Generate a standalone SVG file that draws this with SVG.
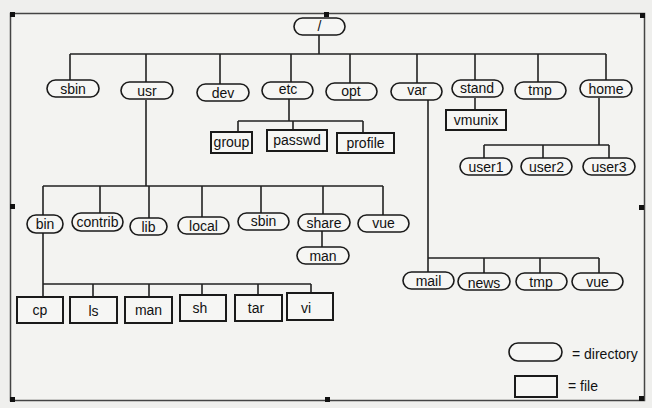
<svg xmlns="http://www.w3.org/2000/svg" width="652" height="408" viewBox="0 0 652 408">
<style>
.bg{fill:#efefed}
.frame{fill:#f3f3f1;stroke:#444;stroke-width:1.5}
.h{fill:#111}
.dir{fill:#f6f6f4;stroke:#1a1a1a;stroke-width:1.6}
.file{fill:#f6f6f4;stroke:#1a1a1a;stroke-width:2}
text{font-family:"Liberation Sans",Arial,sans-serif;font-size:14px;fill:#111;text-anchor:middle}
.leg{text-anchor:start}
.c{fill:none;stroke:#222;stroke-width:1.6}
</style>
<rect class="bg" x="0" y="0" width="652" height="408"/>
<rect class="frame" x="10.5" y="13.5" width="634" height="387"/>
<g id="handles">
<rect class="h" x="10" y="12" width="5" height="5"/>
<rect class="h" x="324" y="12" width="5" height="5"/>
<rect class="h" x="640" y="13" width="5" height="5"/>
<rect class="h" x="10" y="204" width="5" height="5"/>
<rect class="h" x="639" y="205" width="5" height="5"/>
<rect class="h" x="10" y="397" width="5" height="5"/>
<rect class="h" x="325" y="397" width="5" height="5"/>
<rect class="h" x="639" y="396" width="5" height="5"/>
</g>
<g id="connectors">
<path class="c" d="M319,35V54M70,54H606M70,54V80M146,54V82M220,54V84M291,54V82M350,54V83M417,54V83M475,54V80M538,54V82M606,54V80"/>
<path class="c" d="M289,99V121M238,121H363M238,121V132M293,121V130M363,121V133"/>
<path class="c" d="M475,98V110"/>
<path class="c" d="M599,98V145M484,145H609M484,145V158M543,145V158M609,145V158"/>
<path class="c" d="M146,100V186M43,186H383M43,186V215M100,186V213M149,186V218M202,186V217M261,186V213M323,186V214M383,186V215"/>
<path class="c" d="M322,231V247"/>
<path class="c" d="M43,233V284M43,284H311M43,284V297M93,284V297M149,284V297M202,284V295M258,284V295M311,284V293"/>
<path class="c" d="M428,99V258M428,258H599M428,258V272M484,258V273M540,258V273M599,258V273"/>
</g>
<g id="n-root"><rect class="dir" x="294" y="18" width="51" height="17" rx="8.5"/><text x="319.5" y="31">/</text></g>
<g id="n-sbin"><rect class="dir" x="47" y="80" width="52" height="17" rx="8.5"/><text x="73" y="94">sbin</text></g>
<g id="n-usr"><rect class="dir" x="121" y="82" width="52" height="17" rx="8.5"/><text x="147" y="96">usr</text></g>
<g id="n-dev"><rect class="dir" x="197" y="84" width="52" height="17" rx="8.5"/><text x="223" y="98">dev</text></g>
<g id="n-etc"><rect class="dir" x="262" y="82" width="51" height="17" rx="8.5"/><text x="288" y="94">etc</text></g>
<g id="n-opt"><rect class="dir" x="326" y="83" width="51" height="17" rx="8.5"/><text x="351" y="96">opt</text></g>
<g id="n-var"><rect class="dir" x="391" y="83" width="51" height="17" rx="8.5"/><text x="417" y="95">var</text></g>
<g id="n-stand"><rect class="dir" x="452" y="80" width="51" height="17" rx="8.5"/><text x="477" y="93">stand</text></g>
<g id="n-tmp"><rect class="dir" x="515" y="82" width="51" height="17" rx="8.5"/><text x="540" y="95">tmp</text></g>
<g id="n-home"><rect class="dir" x="580" y="80" width="52" height="17" rx="8.5"/><text x="606" y="94">home</text></g>
<g id="n-group"><rect class="file" x="211" y="132" width="41" height="21"/><text x="231.5" y="147">group</text></g>
<g id="n-passwd"><rect class="file" x="267" y="130" width="60" height="21"/><text x="297" y="145">passwd</text></g>
<g id="n-profile"><rect class="file" x="337" y="133" width="57" height="20"/><text x="365.5" y="148">profile</text></g>
<g id="n-vmunix"><rect class="file" x="446" y="110" width="60" height="20"/><text x="476" y="125">vmunix</text></g>
<g id="n-user1"><rect class="dir" x="460" y="158" width="52" height="17" rx="8.5"/><text x="486" y="172">user1</text></g>
<g id="n-user2"><rect class="dir" x="521" y="158" width="51" height="17" rx="8.5"/><text x="546.5" y="172">user2</text></g>
<g id="n-user3"><rect class="dir" x="583" y="158" width="52" height="17" rx="8.5"/><text x="609" y="172">user3</text></g>
<g id="n-bin"><rect class="dir" x="27" y="215" width="36" height="18" rx="9"/><text x="45" y="229">bin</text></g>
<g id="n-contrib"><rect class="dir" x="72" y="213" width="51" height="18" rx="9"/><text x="97.5" y="227">contrib</text></g>
<g id="n-lib"><rect class="dir" x="130" y="218" width="37" height="17" rx="8.5"/><text x="148.5" y="232">lib</text></g>
<g id="n-local"><rect class="dir" x="178" y="217" width="51" height="17" rx="8.5"/><text x="203.5" y="231">local</text></g>
<g id="n-sbin2"><rect class="dir" x="238" y="213" width="51" height="17" rx="8.5"/><text x="263.5" y="226">sbin</text></g>
<g id="n-share"><rect class="dir" x="298" y="214" width="52" height="17" rx="8.5"/><text x="324" y="228">share</text></g>
<g id="n-vue"><rect class="dir" x="358" y="215" width="51" height="17" rx="8.5"/><text x="383.5" y="228">vue</text></g>
<g id="n-man"><rect class="dir" x="297" y="247" width="52" height="17" rx="8.5"/><text x="323" y="261">man</text></g>
<g id="n-cp"><rect class="file" x="17" y="297" width="46" height="26"/><text x="40" y="315">cp</text></g>
<g id="n-ls"><rect class="file" x="70" y="297" width="47" height="26"/><text x="93.5" y="316">ls</text></g>
<g id="n-man2"><rect class="file" x="125" y="297" width="47" height="26"/><text x="148.5" y="315">man</text></g>
<g id="n-sh"><rect class="file" x="180" y="295" width="46" height="26"/><text x="200" y="313">sh</text></g>
<g id="n-tar"><rect class="file" x="235" y="295" width="47" height="26"/><text x="256" y="313">tar</text></g>
<g id="n-vi"><rect class="file" x="287" y="293" width="46" height="27"/><text x="306" y="313">vi</text></g>
<g id="n-mail"><rect class="dir" x="403" y="272" width="51" height="17" rx="8.5"/><text x="428.5" y="286">mail</text></g>
<g id="n-news"><rect class="dir" x="458" y="273" width="52" height="17" rx="8.5"/><text x="484" y="288">news</text></g>
<g id="n-tmp2"><rect class="dir" x="516" y="273" width="51" height="17" rx="8.5"/><text x="541" y="287">tmp</text></g>
<g id="n-vue2"><rect class="dir" x="572" y="273" width="51" height="17" rx="8.5"/><text x="597.5" y="287">vue</text></g>
<g id="legend">
<rect class="dir" x="509" y="343" width="53" height="18" rx="9"/>
<text class="leg" x="572" y="359">= directory</text>
<rect class="file" x="515" y="376" width="42" height="21"/>
<text class="leg" x="568" y="391">= file</text>
</g>
</svg>
